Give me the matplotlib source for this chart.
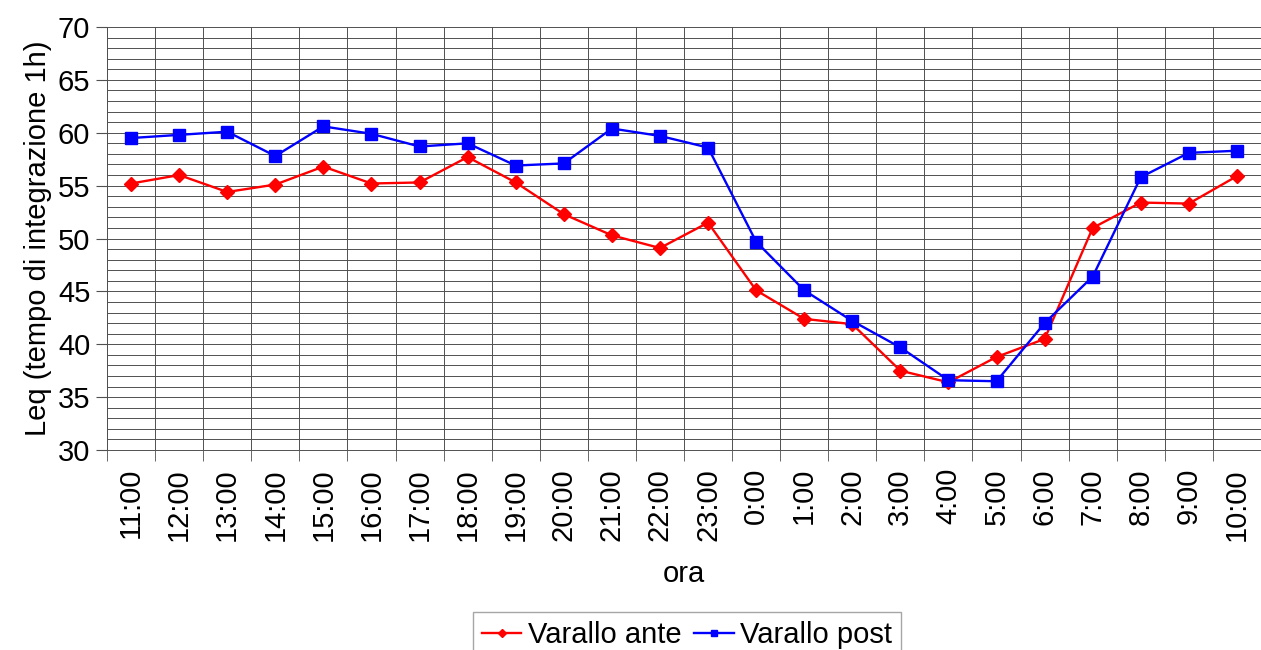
import matplotlib
matplotlib.use("Agg")
import matplotlib.pyplot as plt
import numpy as np

# ==============================
# DATA
# ==============================
ore = ["11:00", "12:00", "13:00", "14:00", "15:00", "16:00", "17:00", "18:00",
       "19:00", "20:00", "21:00", "22:00", "23:00", "0:00", "1:00", "2:00",
       "3:00", "4:00", "5:00", "6:00", "7:00", "8:00", "9:00", "10:00"]

varallo_ante = [55.2, 56.0, 54.4, 55.1, 56.8, 55.2, 55.3, 57.7,
                55.3, 52.3, 50.3, 49.1, 51.5, 45.1, 42.4, 41.9,
                37.5, 36.4, 38.8, 40.5, 51.0, 53.4, 53.3, 55.9]

varallo_post = [59.5, 59.8, 60.1, 57.8, 60.6, 59.9, 58.7, 59.0,
                56.9, 57.1, 60.4, 59.7, 58.6, 49.7, 45.1, 42.2,
                39.7, 36.6, 36.5, 42.0, 46.4, 55.8, 58.1, 58.3]

# ==============================
# FIGURE
# ==============================
plt.rcParams['font.family'] = ['Liberation Sans', 'DejaVu Sans']
FS = 21

fig = plt.figure(figsize=(12.61, 6.5), dpi=100)
ax = fig.add_axes([107 / 1261, 1 - 450 / 650, 1 - 107 / 1261, (450 - 27) / 650])

x = np.arange(len(ore))

# grid: one line per dB, vertical lines between categories
for v in range(30, 71):
    ax.axhline(v, color='#505050', lw=0.7, zorder=0)
for b in np.arange(-0.5, len(ore) + 0.5, 1):
    ax.axvline(b, color='#505050', lw=0.7, zorder=0)

ax.plot(x, varallo_ante, color='#ff0000', marker='D', markersize=7.5,
        lw=1.7, label='Varallo ante', zorder=3)
ax.plot(x, varallo_post, color='#0000ff', marker='s', markersize=8,
        lw=1.7, label='Varallo post', zorder=3)

ax.set_xlim(-0.5, len(ore) - 0.5)
ax.set_ylim(30, 70)
ax.set_yticks(range(30, 71, 5))

ax.set_xticks(x)
ax.set_xticklabels(ore, rotation=90)
ax.set_xticks(np.arange(-0.5, len(ore), 1), minor=True)
ax.tick_params(axis='x', which='major', length=0, pad=13, labelsize=FS)
ax.tick_params(axis='x', which='minor', length=8, color='#505050')
ax.tick_params(axis='y', length=8, color='#505050', pad=4, labelsize=FS)

for s in ['top', 'right']:
    ax.spines[s].set_visible(False)
for s in ['left', 'bottom']:
    ax.spines[s].set_color('#505050')
    ax.spines[s].set_linewidth(0.7)

ax.set_xlabel("ora", fontsize=FS, labelpad=14)
ax.set_ylabel("Leq (tempo di integrazione 1h)", fontsize=FS, labelpad=4)

fig.legend(loc='upper center', bbox_to_anchor=(687 / 1261, 1 - 612 / 650),
           borderaxespad=0, ncol=2, frameon=True, fancybox=False,
           edgecolor='#909090', handlelength=1.35, handletextpad=0.22,
           columnspacing=0.45, borderpad=0.3, markerscale=0.6,
           fontsize=FS)

fig.savefig("out.png", dpi=100, facecolor='white')
